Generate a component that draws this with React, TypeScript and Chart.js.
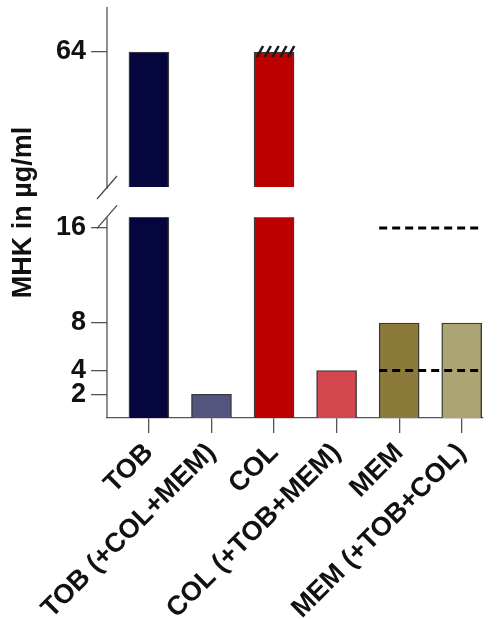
import React, { useEffect, useRef } from "react";
import { Chart, registerables } from "chart.js";

Chart.register(...registerables);

// ---- data ----
const categories = ["TOB", "TOB (+COL+MEM)", "COL", "COL (+TOB+MEM)", "MEM", "MEM (+TOB+COL)"];
const mhkValues = [64, 2, 64, 4, 8, 8];
const exceedsTop = [false, false, true, false, false, false];
const lowerTicks = [2, 4, 8, 16];
const upperTicks = [64];
const lowerRange = [0, 19.45];
const lowerBreakValue = 16.9;
const upperRange = [52, 68];
const xRange = [-0.67, 5.34];
const breakpointLines = [
  { from: "MEM", to: "MEM (+TOB+COL)", value: 16 },
  { from: "MEM", to: "MEM (+TOB+COL)", value: 4 },
];
const yTitle = "MHK in µg/ml";

// ---- styles ----
const barColors = ["#06063f", "#54557f", "#bb0000", "#d4474f", "#8b7a39", "#ada474"];
const FONT = "'Liberation Sans', Arial, sans-serif";
const AXIS = "#555555";
const W = 497;
const H = 619;

const brokenAxisPlugin = {
  id: "brokenAxis",
  beforeDatasetDraw(chart: any, args: any) {
    const ds = chart.data.datasets[args.index];
    const ys = chart.scales[ds.yAxisID];
    const ctx = chart.ctx;
    const area = chart.chartArea;
    let top = ys.top;
    const bottom = ys.bottom;
    if (ds.yAxisID === "yLow") top = ys.getPixelForValue(lowerBreakValue);
    ctx.save();
    ctx.beginPath();
    ctx.rect(area.left - 2, top, area.right - area.left + 4, bottom - top + 2);
    ctx.clip();
  },
  afterDatasetDraw(chart: any) {
    chart.ctx.restore();
  },
  afterDraw(chart: any) {
    const ctx = chart.ctx;
    const area = chart.chartArea;
    const yl = chart.scales.yLow;
    const yh = chart.scales.yHigh;
    const xs = chart.scales.x;
    const ax = area.left;
    ctx.save();
    // y axis segments
    ctx.strokeStyle = AXIS;
    ctx.lineWidth = 1.3;
    const lowTop = yl.getPixelForValue(lowerBreakValue);
    ctx.beginPath();
    ctx.moveTo(ax, yh.top);
    ctx.lineTo(ax, yh.bottom + 2);
    ctx.moveTo(ax, lowTop);
    ctx.lineTo(ax, yl.bottom);
    ctx.stroke();
    // break marks
    ctx.strokeStyle = "#444";
    ctx.lineWidth = 1.2;
    const mark = (yc: number) => {
      ctx.beginPath();
      ctx.moveTo(ax - 10, yc + 11);
      ctx.lineTo(ax + 10, yc - 12);
      ctx.stroke();
    };
    mark(yh.bottom + 1);
    mark(lowTop);
    // breakpoint dashed lines
    const meta = chart.getDatasetMeta(0);
    ctx.strokeStyle = "#000";
    ctx.lineWidth = 3;
    ctx.setLineDash([8, 5]);
    breakpointLines.forEach((b) => {
      const i0 = categories.indexOf(b.from);
      const i1 = categories.indexOf(b.to);
      const half = meta.data[i0].width / 2;
      const x0 = xs.getPixelForValue(i0) - half;
      const x1 = xs.getPixelForValue(i1) + half;
      const y = yl.getPixelForValue(b.value);
      ctx.beginPath();
      ctx.moveTo(x0, y);
      ctx.lineTo(x1, y);
      ctx.stroke();
    });
    ctx.setLineDash([]);
    // hatch on bars exceeding the top value
    const metaH = chart.getDatasetMeta(1);
    ctx.strokeStyle = "#1a1a1a";
    ctx.lineWidth = 2.6;
    exceedsTop.forEach((flag, i) => {
      if (!flag) return;
      const bar = metaH.data[i];
      const left = bar.x - bar.width / 2;
      for (let k = 0; k < 5; k++) {
        const bx = left + 3 + k * 7.8;
        ctx.beginPath();
        ctx.moveTo(bx, bar.y + 5);
        ctx.lineTo(bx + 6, bar.y - 6);
        ctx.stroke();
      }
    });
    // y title
    ctx.fillStyle = "#111";
    ctx.font = `bold 27px ${FONT}`;
    ctx.textAlign = "center";
    ctx.textBaseline = "middle";
    ctx.translate(24, (area.top + area.bottom) / 2);
    ctx.rotate(-Math.PI / 2);
    ctx.fillText(yTitle, 0, 0);
    ctx.restore();
  },
};

export default function App() {
  const ref = useRef<HTMLCanvasElement | null>(null);
  useEffect(() => {
    if (!ref.current) return;
    const points = mhkValues.map((v, i) => ({ x: i, y: v }));
    const tickFont = { family: FONT, size: 27, weight: "bold" as const };
    const yCommon = (ticks: number[]) => ({
      type: "linear" as const,
      position: "left" as const,
      stack: "y",
      beginAtZero: false,
      afterBuildTicks: (s: any) => {
        s.ticks = ticks.map((v) => ({ value: v }));
      },
      afterFit: (s: any) => {
        s.width = 107;
        s.paddingTop = 0;
        s.paddingBottom = 0;
      },
      grid: { display: true, drawOnChartArea: false, tickLength: 16, color: AXIS, lineWidth: 1.3 },
      border: { display: false },
      ticks: { font: tickFont, color: "#111", padding: 5, autoSkip: false },
    });
    const barStyle = {
      backgroundColor: barColors,
      borderColor: "#3a3a3a",
      borderWidth: 1.4,
      barThickness: 40,
      grouped: false,
    };
    const chart = new Chart(ref.current, {
      type: "bar",
      data: {
        datasets: [
          { label: "lower", data: points, yAxisID: "yLow", xAxisID: "x", ...barStyle } as any,
          { label: "upper", data: points, yAxisID: "yHigh", xAxisID: "x", ...barStyle } as any,
        ],
      },
      options: {
        animation: false,
        responsive: false,
        maintainAspectRatio: false,
        layout: { padding: { top: 7, right: 14, left: 0, bottom: 0 } },
        plugins: { legend: { display: false }, tooltip: { enabled: false } },
        scales: {
          x: {
            type: "linear",
            min: xRange[0],
            max: xRange[1],
            offset: false,
            afterFit: (s: any) => {
              s.height = 201;
              s.paddingLeft = 0;
              s.paddingRight = 0;
            },
            grid: { display: true, offset: false, drawOnChartArea: false, tickLength: 15, color: AXIS, lineWidth: 1.3 },
            border: { display: true, color: AXIS, width: 1.3 },
            ticks: {
              stepSize: 1,
              includeBounds: false,
              autoSkip: false,
              maxRotation: 45,
              minRotation: 45,
              font: tickFont,
              color: "#111",
              padding: 4,
              callback: (v: any) => (Number.isInteger(v) && categories[v] !== undefined ? categories[v] : ""),
            },
          },
          yLow: { ...yCommon(lowerTicks), min: lowerRange[0], max: lowerRange[1], stackWeight: 231 },
          yHigh: { ...yCommon(upperTicks), min: upperRange[0], max: upperRange[1], stackWeight: 180 },
        } as any,
      },
      plugins: [brokenAxisPlugin],
    });
    return () => chart.destroy();
  }, []);
  return (
    <div style={{ position: "fixed", left: 0, top: 0, width: W, height: H }}>
      <canvas ref={ref} width={W} height={H} style={{ display: "block" }} />
    </div>
  );
}
